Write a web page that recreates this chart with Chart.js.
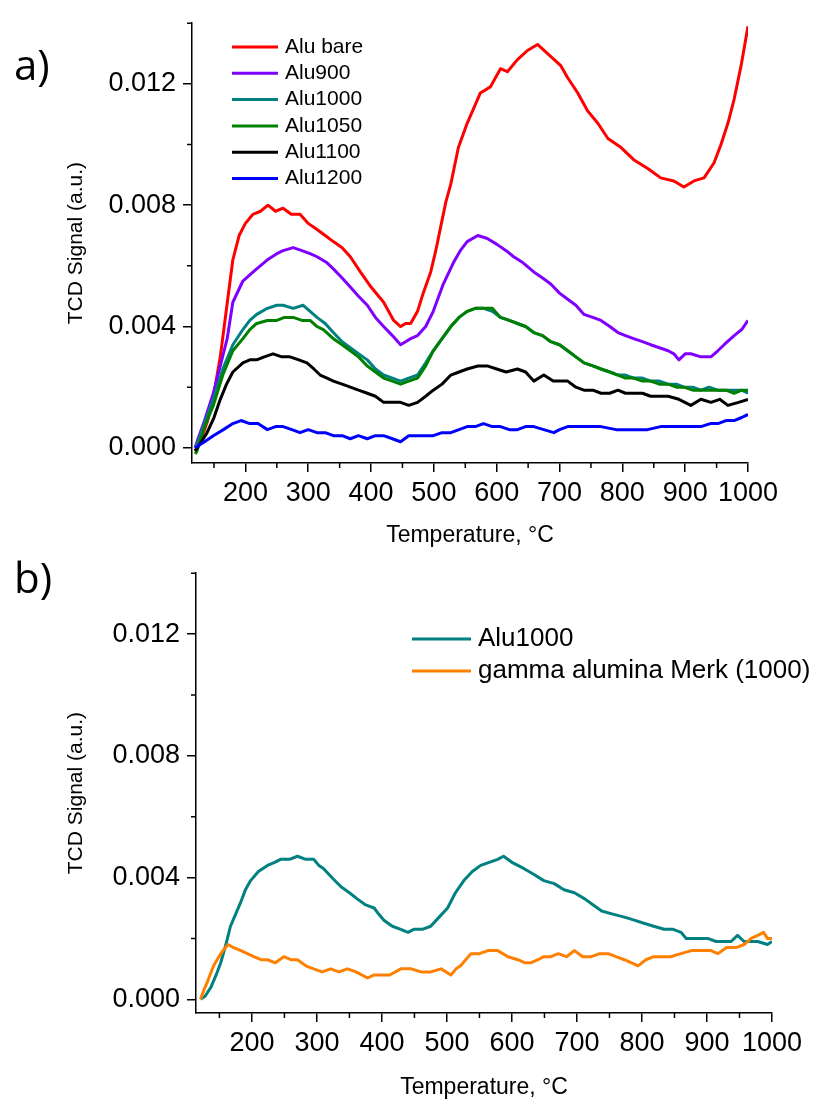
<!DOCTYPE html>
<html>
<head>
<meta charset="utf-8">
<script src="https://cdn.jsdelivr.net/npm/chart.js@4.4.0/dist/chart.umd.min.js"></script>
<style>
  body { margin: 0; background: #fff; width: 819px; height: 1101px; overflow: hidden; }
  .box { position: absolute; left: 0; width: 819px; }
  #boxA { top: 0; height: 550px; }
  #boxB { top: 550px; height: 551px; }
</style>
</head>
<body>
<div class="box" id="boxA"><canvas id="chartA"></canvas></div>
<div class="box" id="boxB"><canvas id="chartB"></canvas></div>
<script>
// axis ticks
const xTicks = [200, 300, 400, 500, 600, 700, 800, 900, 1000];
const xMinor = [150, 250, 350, 450, 550, 650, 750, 850, 950];
const yTicks = [0, 0.004, 0.008, 0.012];
const yMinor = [0.002, 0.006, 0.010, 0.014];

// panel a) - temperature (°C) and TCD signal
const bareT = [120,130,140,150,160,170,180,190,200,212,224,236,248,260,273,287,300,314,327,340,354,367,383,400,420,436,447,455,463,474,483,495,503,511,519,527,539,553,574,590,606,617,633,649,665,681,702,713,729,745,761,777,798,818,841,861,882,898,914,930,946,957,968,978,989,1000];
const bareV = [-0.0001,0.0003,0.0009,0.0018,0.0030,0.0046,0.0062,0.0070,0.0074,0.0077,0.0078,0.0080,0.0078,0.0079,0.0077,0.0077,0.0074,0.0072,0.0070,0.0068,0.0066,0.0063,0.0058,0.0053,0.0048,0.0042,0.0040,0.0041,0.0041,0.0045,0.0051,0.0058,0.0065,0.0073,0.0081,0.0087,0.0099,0.0107,0.0117,0.0119,0.0125,0.0124,0.0128,0.0131,0.0133,0.0130,0.0126,0.0122,0.0117,0.0111,0.0107,0.0102,0.0099,0.0095,0.0092,0.0089,0.0088,0.0086,0.0088,0.0089,0.0094,0.0100,0.0107,0.0115,0.0126,0.0139];

const a900T = [120,123,135,149,160,171,180,196,207,218,235,250,260,276,290,303,314,330,340,354,367,380,394,407,420,434,447,455,463,474,487,499,515,531,542,553,570,585,601,615,627,642,659,673,686,700,713,726,739,753,766,780,793,805,818,832,845,859,873,882,890,900,909,925,941,952,962,978,990,1000];
const a900V = [0.0000,0.0002,0.0009,0.0018,0.0027,0.0036,0.0048,0.0055,0.0057,0.0059,0.0062,0.0064,0.0065,0.0066,0.0065,0.0064,0.0063,0.0061,0.0059,0.0056,0.0053,0.0050,0.0047,0.0043,0.0040,0.0037,0.0034,0.0035,0.0036,0.0037,0.0040,0.0045,0.0054,0.0061,0.0065,0.0068,0.0070,0.0069,0.0067,0.0065,0.0063,0.0061,0.0058,0.0056,0.0054,0.0051,0.0049,0.0047,0.0044,0.0043,0.0042,0.0040,0.0038,0.0037,0.0036,0.0035,0.0034,0.0033,0.0032,0.0031,0.0029,0.0031,0.0031,0.0030,0.0030,0.0032,0.0034,0.0037,0.0039,0.0042];

const a1000T = [120,123,135,149,164,180,196,207,218,235,250,260,276,292,303,314,327,340,354,367,380,394,407,420,434,447,460,474,487,499,513,527,540,553,566,579,593,606,620,633,646,659,673,686,700,713,726,739,753,766,780,793,805,818,832,845,859,873,886,898,912,925,938,952,965,978,990,1000];
const a1000V = [0.0000,0.0001,0.0008,0.0016,0.0026,0.0034,0.0039,0.0042,0.0044,0.0046,0.0047,0.0047,0.0046,0.0047,0.0045,0.0043,0.0041,0.0038,0.0035,0.0033,0.0031,0.0029,0.0026,0.0024,0.0023,0.0022,0.0023,0.0024,0.0028,0.0032,0.0036,0.0040,0.0043,0.0045,0.0046,0.0046,0.0045,0.0043,0.0042,0.0041,0.0040,0.0038,0.0037,0.0035,0.0034,0.0032,0.0030,0.0028,0.0027,0.0026,0.0025,0.0024,0.0024,0.0023,0.0023,0.0022,0.0022,0.0021,0.0021,0.0020,0.0020,0.0019,0.0020,0.0019,0.0019,0.0019,0.0019,0.0018];

const a1050T = [120,123,135,149,164,180,196,207,218,235,250,262,276,290,303,314,324,340,354,367,380,394,407,420,434,447,460,474,487,499,513,527,540,553,566,579,593,606,620,633,646,659,673,686,700,713,726,739,753,766,780,793,805,818,832,845,859,873,886,898,912,925,938,952,965,978,990,1000];
const a1050V = [-0.0002,-0.0001,0.0007,0.0014,0.0024,0.0032,0.0036,0.0039,0.0041,0.0042,0.0042,0.0043,0.0043,0.0042,0.0042,0.0040,0.0039,0.0036,0.0034,0.0032,0.0030,0.0027,0.0025,0.0023,0.0022,0.0021,0.0022,0.0023,0.0027,0.0032,0.0036,0.0040,0.0043,0.0045,0.0046,0.0046,0.0046,0.0043,0.0042,0.0041,0.0040,0.0038,0.0037,0.0035,0.0034,0.0032,0.0030,0.0028,0.0027,0.0026,0.0025,0.0024,0.0023,0.0023,0.0022,0.0022,0.0021,0.0021,0.0020,0.0020,0.0019,0.0019,0.0019,0.0019,0.0019,0.0018,0.0019,0.0019];

const a1100T = [120,130,139,150,160,170,180,196,207,218,230,244,258,271,285,298,309,319,330,340,354,367,380,394,407,420,434,447,460,474,487,499,513,527,540,553,570,585,600,615,633,646,659,675,690,700,713,726,739,753,766,780,793,805,818,832,845,859,873,890,909,925,941,955,968,985,1000];
const a1100V = [-0.0001,0.0002,0.0005,0.0010,0.0016,0.0021,0.0025,0.0028,0.0029,0.0029,0.0030,0.0031,0.0030,0.0030,0.0029,0.0028,0.0026,0.0024,0.0023,0.0022,0.0021,0.0020,0.0019,0.0018,0.0017,0.0015,0.0015,0.0015,0.0014,0.0015,0.0017,0.0019,0.0021,0.0024,0.0025,0.0026,0.0027,0.0027,0.0026,0.0025,0.0026,0.0025,0.0022,0.0024,0.0022,0.0022,0.0022,0.0020,0.0019,0.0019,0.0018,0.0018,0.0019,0.0018,0.0018,0.0018,0.0017,0.0017,0.0017,0.0016,0.0014,0.0016,0.0015,0.0016,0.0014,0.0015,0.0016];

const a1200T = [120,135,149,165,180,193,207,220,235,248,260,274,287,300,314,327,340,354,367,380,394,407,420,434,447,460,474,487,499,513,527,540,553,566,579,593,606,620,633,646,659,675,691,700,713,740,766,790,818,840,861,880,898,912,925,940,952,965,978,990,1000];
const a1200V = [0.0000,0.0002,0.0004,0.0006,0.0008,0.0009,0.0008,0.0008,0.0006,0.0007,0.0007,0.0006,0.0005,0.0006,0.0005,0.0005,0.0004,0.0004,0.0003,0.0004,0.0003,0.0004,0.0004,0.0003,0.0002,0.0004,0.0004,0.0004,0.0004,0.0005,0.0005,0.0006,0.0007,0.0007,0.0008,0.0007,0.0007,0.0006,0.0006,0.0007,0.0007,0.0006,0.0005,0.0006,0.0007,0.0007,0.0007,0.0006,0.0006,0.0006,0.0007,0.0007,0.0007,0.0007,0.0007,0.0008,0.0008,0.0009,0.0009,0.0010,0.0011];

// panel b)
const b1000T = [121,128,137,145,152,160,167,175,183,190,198,210,224,235,244,258,270,283,295,303,310,323,337,350,362,375,388,395,403,416,429,440,449,462,475,488,501,513,526,539,552,565,578,587,600,618,634,649,665,680,696,712,725,738,755,773,788,803,818,834,848,860,868,876,888,901,914,926,937,947,957,968,978,993,1000];
const b1000V = [0.0000,0.0001,0.0004,0.0008,0.0012,0.0018,0.0024,0.0028,0.0032,0.0036,0.0039,0.0042,0.0044,0.0045,0.0046,0.0046,0.0047,0.0046,0.0046,0.0044,0.0043,0.0040,0.0037,0.0035,0.0033,0.0031,0.0030,0.0028,0.0026,0.0024,0.0023,0.0022,0.0023,0.0023,0.0024,0.0027,0.0030,0.0035,0.0039,0.0042,0.0044,0.0045,0.0046,0.0047,0.0045,0.0043,0.0041,0.0039,0.0038,0.0036,0.0035,0.0033,0.0031,0.0029,0.0028,0.0027,0.0026,0.0025,0.0024,0.0023,0.0023,0.0022,0.0020,0.0020,0.0020,0.0020,0.0019,0.0019,0.0019,0.0021,0.0019,0.0019,0.0019,0.0018,0.0019];

const merkT = [121,126,132,141,152,163,172,183,193,203,214,224,236,249,260,270,283,295,308,321,334,347,360,378,388,398,412,429,445,460,475,491,506,514,521,537,550,563,578,594,609,620,629,640,649,660,671,684,696,709,722,735,748,760,773,784,794,806,818,831,844,860,876,895,906,917,930,945,957,968,978,987,993,1000];
const merkV = [0.0000,0.0003,0.0006,0.0011,0.0015,0.0018,0.0017,0.0016,0.0015,0.0014,0.0013,0.0013,0.0012,0.0014,0.0013,0.0013,0.0011,0.0010,0.0009,0.0010,0.0009,0.0010,0.0009,0.0007,0.0008,0.0008,0.0008,0.0010,0.0010,0.0009,0.0009,0.0010,0.0008,0.0010,0.0011,0.0015,0.0015,0.0016,0.0016,0.0014,0.0013,0.0012,0.0012,0.0013,0.0014,0.0014,0.0015,0.0014,0.0016,0.0014,0.0014,0.0015,0.0015,0.0014,0.0013,0.0012,0.0011,0.0013,0.0014,0.0014,0.0014,0.0015,0.0016,0.0016,0.0016,0.0015,0.0017,0.0017,0.0018,0.0020,0.0021,0.0022,0.0020,0.0020];

const FONT = '"Liberation Sans", Arial, sans-serif';

function pts(T, V) {
  return T.map((t, i) => ({ x: t, y: V[i] }));
}

function series(label, color, T, V, i) {
  return {
    label: label,
    data: pts(T, V),
    borderColor: color,
    borderWidth: 3,
    pointRadius: 0,
    borderJoinStyle: 'round',
    tension: 0,
    order: -i // later series on top
  };
}

// minor ticks, legend and panel letter
const decor = {
  id: 'decor',
  afterDraw(chart, args, o) {
    const ctx = chart.ctx;
    const x = chart.scales.x, y = chart.scales.y;
    ctx.save();
    ctx.strokeStyle = '#000';
    ctx.lineWidth = 1.5;
    ctx.beginPath();
    xMinor.forEach(v => {
      const p = x.getPixelForValue(v);
      ctx.moveTo(p, x.top); ctx.lineTo(p, x.top + 5);
    });
    yMinor.forEach(v => {
      const p = y.getPixelForValue(v);
      ctx.moveTo(y.right - 5, p); ctx.lineTo(y.right, p);
    });
    ctx.stroke();

    ctx.font = o.legendSize + 'px ' + FONT;
    ctx.textBaseline = 'middle';
    chart.data.datasets.forEach((ds, i) => {
      const yy = o.legendY + i * o.legendGap;
      ctx.strokeStyle = ds.borderColor;
      ctx.lineWidth = 3;
      ctx.beginPath();
      ctx.moveTo(o.legendX, yy);
      ctx.lineTo(o.legendX + o.legendLine, yy);
      ctx.stroke();
      ctx.fillStyle = '#000';
      ctx.fillText(ds.label, o.legendX + o.legendLine + 7, yy);
    });

    ctx.font = '42px "Open Sans", sans-serif';
    ctx.textBaseline = 'alphabetic';
    ctx.fillStyle = '#000';
    ctx.fillText(o.letter, 14, o.letterY);
    ctx.restore();
  }
};

function makeChart(id, datasets, p) {
  return new Chart(document.getElementById(id), {
    type: 'line',
    data: { datasets: datasets },
    plugins: [decor],
    options: {
      responsive: true,
      maintainAspectRatio: false,
      animation: false,
      layout: { padding: p.padding },
      plugins: {
        legend: { display: false },
        tooltip: { enabled: false },
        decor: p.decor
      },
      scales: {
        x: {
          type: 'linear',
          min: p.xMin,
          max: 1000,
          afterBuildTicks: s => { s.ticks = xTicks.map(v => ({ value: v })); },
          afterFit: s => { s.height = p.xHeight; },
          ticks: {
            font: { family: FONT, size: 27 },
            color: '#000',
            padding: 5,
            maxRotation: 0,
            autoSkip: false,
            callback: v => String(v)
          },
          grid: { drawOnChartArea: false, color: '#000', lineWidth: 1.5, tickLength: 9 },
          border: { color: '#000', width: 1.5 },
          title: {
            display: true,
            text: 'Temperature, °C',
            color: '#000',
            font: { family: FONT, size: 23 },
            padding: { top: 0, bottom: p.xTitlePad }
          }
        },
        y: {
          min: p.yMin,
          max: 0.014,
          afterBuildTicks: s => { s.ticks = yTicks.map(v => ({ value: v })); },
          afterFit: s => { s.width = p.yWidth; },
          ticks: {
            font: { family: FONT, size: 27 },
            color: '#000',
            padding: 7,
            callback: v => v.toFixed(3)
          },
          grid: { drawOnChartArea: false, color: '#000', lineWidth: 1.5, tickLength: 9 },
          border: { color: '#000', width: 1.5 },
          title: {
            display: true,
            text: 'TCD Signal (a.u.)',
            color: '#000',
            font: { family: FONT, size: 21 },
            padding: { top: 64, bottom: 0 }
          }
        }
      }
    }
  });
}

makeChart('chartA', [
  series('Alu bare', '#ff0000', bareT, bareV, 0),
  series('Alu900', '#8000ff', a900T, a900V, 1),
  series('Alu1000', '#008080', a1000T, a1000V, 2),
  series('Alu1050', '#008000', a1050T, a1050V, 3),
  series('Alu1100', '#000000', a1100T, a1100V, 4),
  series('Alu1200', '#0000ff', a1200T, a1200V, 5)
], {
  padding: { left: 0, right: 71, top: 15, bottom: 0 },
  xMin: 115, yMin: -0.0005, xHeight: 87, yWidth: 192, xTitlePad: 1,
  decor: { legendX: 232, legendY: 47, legendGap: 26.3, legendLine: 46, legendSize: 21, letter: 'a)', letterY: 80 }
});

makeChart('chartB', [
  series('Alu1000', '#008080', b1000T, b1000V, 0),
  series('gamma alumina Merk (1000)', '#ff8000', merkT, merkV, 1)
], {
  padding: { left: 0, right: 47, top: 2, bottom: 0 },
  xMin: 114, yMin: -0.00045, xHeight: 88, yWidth: 196, xTitlePad: 0,
  decor: { legendX: 412, legendY: 89, legendGap: 32, legendLine: 59, legendSize: 26, letter: 'b)', letterY: 43 }
});
</script>
</body>
</html>
